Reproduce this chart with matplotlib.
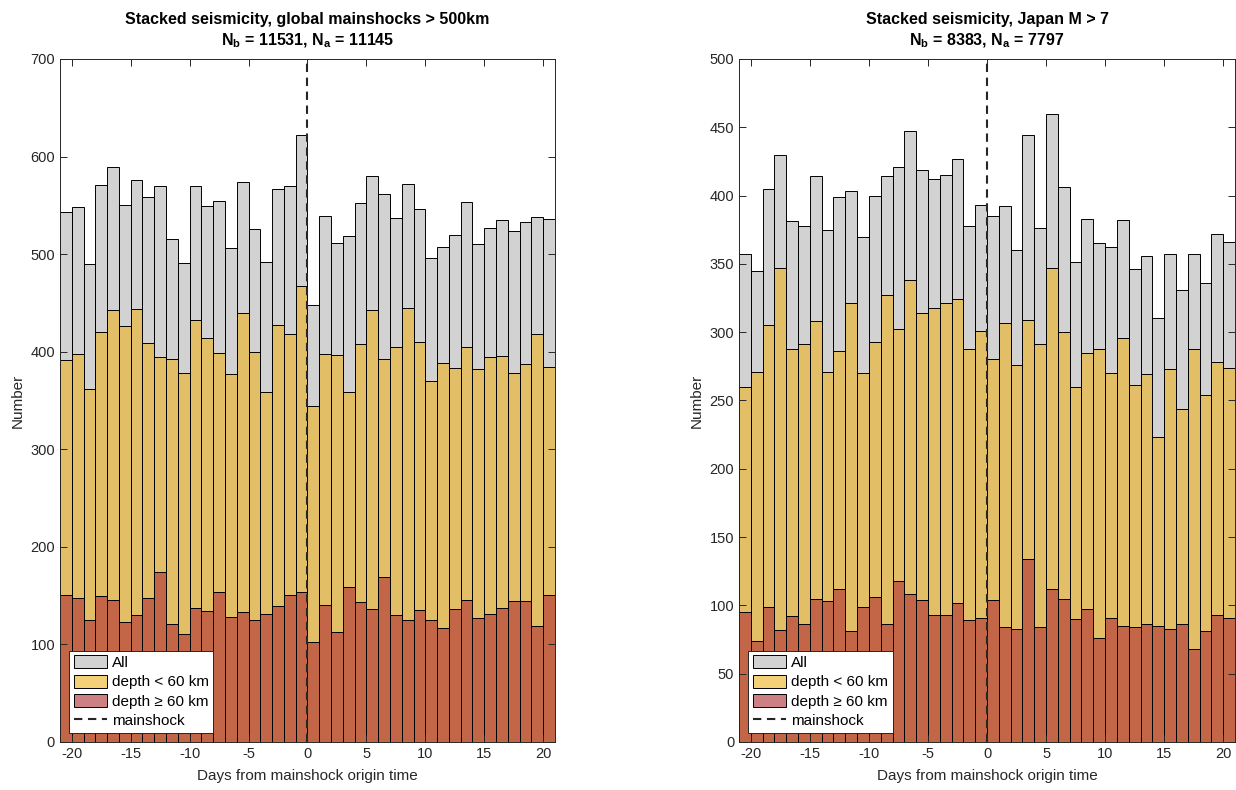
import numpy as np
import matplotlib
matplotlib.use('Agg')
import matplotlib.pyplot as plt
from matplotlib.patches import Patch
from matplotlib.lines import Line2D

plt.rcParams['font.family'] = ['Liberation Sans', 'DejaVu Sans']
plt.rcParams['mathtext.fontset'] = 'custom'
plt.rcParams['mathtext.rm'] = 'Liberation Sans'
plt.rcParams['mathtext.bf'] = 'Liberation Sans:bold'
plt.rcParams['axes.unicode_minus'] = False

# daily bins, left edges from -21 to 20 days
days = np.arange(-21, 21)

# global mainshocks deeper than 500 km
glob_all = [543, 548, 490, 571, 589, 550, 576, 558, 570, 515, 491, 570, 549, 554, 506, 574, 526, 492, 567, 570, 622,
            448, 539, 511, 519, 552, 580, 562, 537, 572, 546, 496, 507, 520, 553, 510, 527, 535, 524, 533, 538, 536]
glob_shallow = [391, 398, 362, 420, 443, 426, 444, 409, 395, 392, 378, 432, 414, 399, 377, 440, 400, 359, 427, 418, 467,
                344, 398, 397, 359, 408, 443, 392, 405, 445, 410, 370, 388, 383, 405, 382, 395, 396, 378, 387, 418, 384]
glob_deep = [151, 148, 125, 150, 145, 123, 130, 148, 174, 121, 111, 137, 134, 154, 128, 133, 125, 131, 139, 151, 154,
             102, 140, 113, 159, 143, 136, 169, 130, 125, 135, 125, 117, 136, 146, 127, 131, 137, 144, 144, 119, 151]

# Japan, M > 7
jap_all = [357, 345, 405, 430, 381, 378, 414, 375, 399, 403, 370, 400, 414, 421, 447, 419, 412, 415, 427, 378, 393,
           385, 392, 360, 444, 376, 460, 406, 351, 383, 365, 362, 382, 346, 356, 310, 357, 331, 357, 336, 372, 366]
jap_shallow = [260, 271, 305, 347, 288, 291, 308, 271, 286, 321, 270, 293, 327, 302, 338, 314, 318, 321, 324, 288, 301,
               280, 307, 276, 309, 291, 347, 300, 260, 285, 288, 270, 296, 261, 269, 223, 273, 244, 288, 254, 278, 274]
jap_deep = [95, 74, 99, 82, 92, 86, 105, 103, 112, 81, 99, 106, 86, 118, 108, 104, 93, 93, 102, 89, 91,
            104, 84, 83, 134, 84, 112, 105, 90, 97, 76, 91, 85, 84, 86, 85, 83, 86, 68, 81, 93, 91]

titles = ['Stacked seismicity, global mainshocks > 500km\nN$_\\mathbf{b}$ = 11531, N$_\\mathbf{a}$ = 11145',
          'Stacked seismicity, Japan M > 7\nN$_\\mathbf{b}$ = 8383, N$_\\mathbf{a}$ = 7797']

axcol = (0.15, 0.15, 0.15)
c_all = (0.71, 0.71, 0.71, 0.6)
c_shallow = (0.929, 0.694, 0.125, 0.6)
c_deep = (0.68, 0.17, 0.2, 0.6)

fig = plt.figure(figsize=(12.36, 7.90), dpi=100)
ax1 = fig.add_axes([0.0485, 0.0608, 0.4005, 0.8646])
ax2 = fig.add_axes([0.5979, 0.0608, 0.4013, 0.8646])

panels = [(ax1, glob_all, glob_shallow, glob_deep, 700, 100, titles[0]),
          (ax2, jap_all, jap_shallow, jap_deep, 500, 50, titles[1])]

for ax, a, s, d, ymax, ystep, ttl in panels:
    for vals, col in [(a, c_all), (s, c_shallow), (d, c_deep)]:
        ax.bar(days, vals, width=1, align='edge', facecolor=col, edgecolor='black', linewidth=0.7)
    ax.axvline(0, color=axcol, linestyle=(0, (4, 2.7)), linewidth=1.5)
    ax.set_xlim(-21, 21)
    ax.set_ylim(0, ymax)
    ax.set_xticks(np.arange(-20, 21, 5))
    ax.set_yticks(np.arange(0, ymax + 1, ystep))
    ax.tick_params(direction='in', top=True, right=True, length=5, width=0.7,
                   labelsize=10.5, colors=axcol)
    for sp in ax.spines.values():
        sp.set_color(axcol)
        sp.set_linewidth(0.7)
    ax.set_xlabel('Days from mainshock origin time', fontsize=11, color=axcol, labelpad=6)
    ax.set_ylabel('Number', fontsize=11, color=axcol)
    ax.set_title(ttl, fontsize=11.5, fontweight='bold', color='black', pad=9.5, linespacing=1.35)

    handles = [Patch(facecolor=c_all, edgecolor='black', linewidth=0.7),
               Patch(facecolor=c_shallow, edgecolor='black', linewidth=0.7),
               Patch(facecolor=c_deep, edgecolor='black', linewidth=0.7),
               Line2D([], [], color=axcol, linestyle=(0, (4, 2.7)), linewidth=1.5)]
    leg = ax.legend(handles, ['All', 'depth < 60 km', 'depth ≥ 60 km', 'mainshock'],
                    loc='lower left', fontsize=11, fancybox=False, framealpha=1,
                    edgecolor=axcol, borderaxespad=0.6, handlelength=2.2,
                    handleheight=0.95, labelspacing=0.3, handletextpad=0.3,
                    borderpad=0.3)
    leg.get_frame().set_linewidth(0.7)

fig.savefig('out.png', dpi=100)
